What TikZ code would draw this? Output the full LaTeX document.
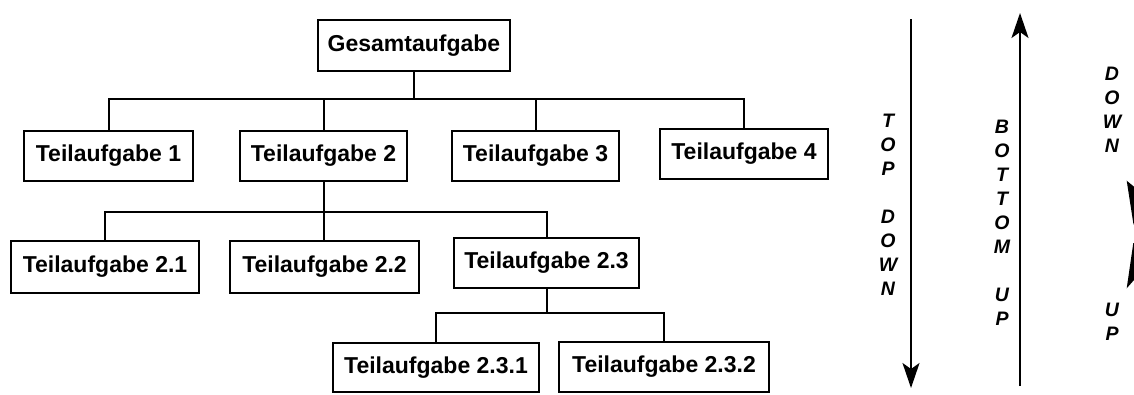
\documentclass[tikz,border=0pt]{standalone}
\usepackage{fontspec}
\setmainfont{Liberation Sans}
\usetikzlibrary{arrows.meta}
\begin{document}
\begin{tikzpicture}[x=1pt,y=-1pt,
  box/.style={draw,line width=2pt,font=\bfseries\fontsize{23}{27}\selectfont,inner sep=0pt,minimum height=50pt},
  conn/.style={line width=2pt},
  vtext/.style={font=\bfseries\itshape\fontsize{19.5}{24}\selectfont,align=center,inner sep=0pt},
  varrow/.style={line width=2pt,-{Stealth[length=25pt,width=17pt,inset=6pt]}}]
\useasboundingbox (0,0) rectangle (1134,394);
% boxes
\node[box,minimum width=192pt,minimum height=51pt] (g) at (414,45.5) {Gesamtaufgabe};
\node[box,minimum width=169pt] (t1) at (108.5,156) {Teilaufgabe 1};
\node[box,minimum width=167pt] (t2) at (323.5,156) {Teilaufgabe 2};
\node[box,minimum width=167pt] (t3) at (535.5,155.5) {Teilaufgabe 3};
\node[box,minimum width=168pt] (t4) at (744,153.5) {Teilaufgabe 4};
\node[box,minimum width=188pt,minimum height=52pt] (t21) at (105,267) {Teilaufgabe 2.1};
\node[box,minimum width=189pt,minimum height=52pt] (t22) at (324.5,267) {Teilaufgabe 2.2};
\node[box,minimum width=185pt] (t23) at (546.5,263) {Teilaufgabe 2.3};
\node[box,minimum width=206pt,minimum height=49pt] (t231) at (436,367.5) {Teilaufgabe 2.3.1};
\node[box,minimum width=210pt] (t232) at (664,367) {Teilaufgabe 2.3.2};
% connectors
\coordinate (b1) at (0,99);
\coordinate (b2) at (0,212);
\coordinate (b3) at (0,313);
\draw[conn] (g.south) -- (g.south |- b1);
\draw[conn] (t1.north) -- (t1.north |- b1) -- (t4.north |- b1) -- (t4.north);
\draw[conn] (t2.north) -- (t2.north |- b1);
\draw[conn] (t3.north) -- (t3.north |- b1);
\draw[conn] (t2.south) -- (t2.south |- t22.north);
\draw[conn] (t21.north) -- (t21.north |- b2) -- (t23.north |- b2) -- (t23.north);
\draw[conn] (t23.south) -- (t23.south |- b3);
\draw[conn] (t231.north) -- (t231.north |- b3) -- (t232.north |- b3) -- (t232.north);
% vertical arrows
\coordinate (td1) at (911,19);
\coordinate (td2) at (911,388);
\coordinate (bu1) at (1020,386);
\coordinate (bu2) at (1020,13);
\draw[varrow] (td1) -- (td2);
\draw[varrow] (bu1) -- (bu2);
% vertical texts
\node[vtext] (tdtext) at (888,205) {T\\O\\P\\[24pt]D\\O\\W\\N};
\node[vtext] (butext) at (1002,223) {B\\O\\T\\T\\O\\M\\[24pt]U\\P};
\node[vtext] (down) at (1112,110) {D\\O\\W\\N};
\node[vtext] (up) at (1112,321.5) {U\\P};
% clipped arrowheads at the right edge
\fill (1126.7,180.7) -- (1134,186.7) -- (1134,225) -- (1133.3,223.3) -- cycle;
\fill (1133.3,243) -- (1126.7,288.3) -- (1134,280) -- (1134,243) -- cycle;
\end{tikzpicture}
\end{document}
